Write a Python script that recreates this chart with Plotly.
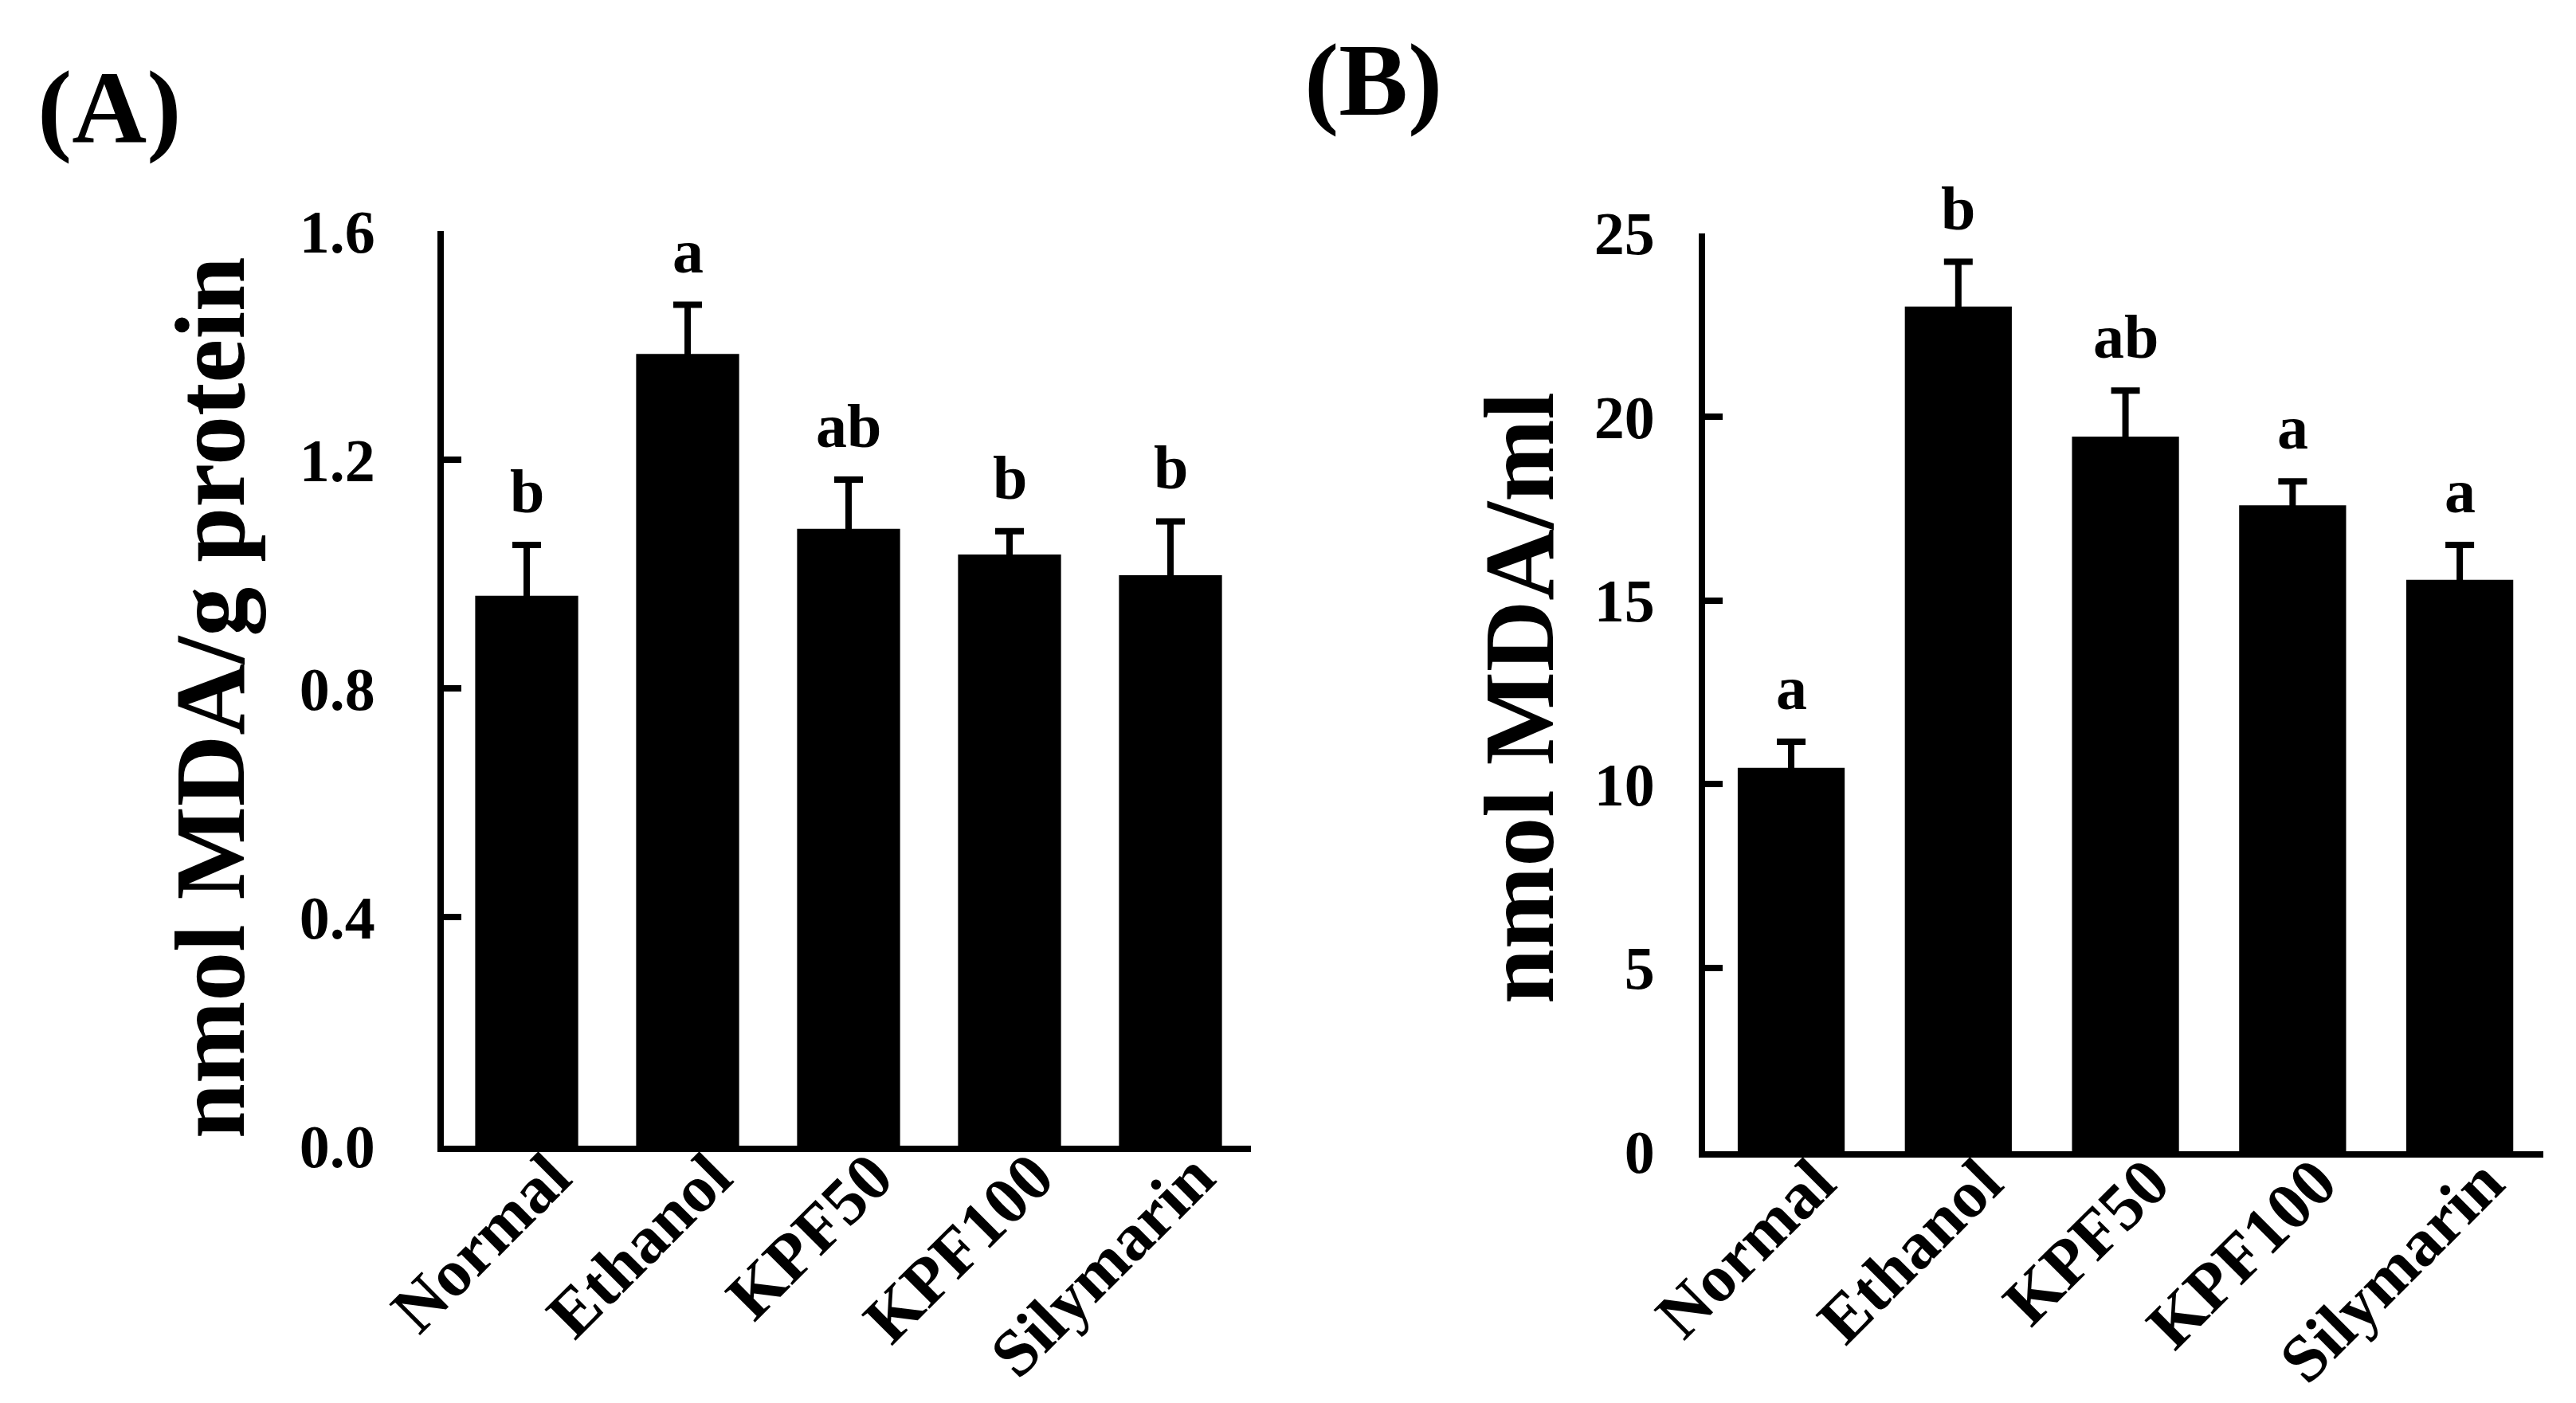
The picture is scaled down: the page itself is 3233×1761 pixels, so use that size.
import plotly.graph_objects as go

categories = ["Normal", "Ethanol", "KPF50", "KPF100", "Silymarin"]

# Panel A: nmol MDA/g protein
a_values = [0.962, 1.385, 1.079, 1.034, 0.998]
a_errors = [0.089, 0.086, 0.086, 0.041, 0.094]
a_letters = ["b", "a", "ab", "b", "b"]
a_ticks = [0.0, 0.4, 0.8, 1.2, 1.6]

# Panel B: nmol MDA/ml
b_values = [10.44, 23.0, 19.46, 17.59, 15.56]
b_errors = [0.71, 1.22, 1.25, 0.65, 0.95]
b_letters = ["a", "b", "ab", "a", "a"]
b_ticks = [0, 5, 10, 15, 20, 25]

W, H = 3233, 1761
FONT = "Liberation Serif"

fig = go.Figure()

def bar(x, y, err, xa, ya):
    return go.Bar(
        x=x, y=y, xaxis=xa, yaxis=ya, width=0.64,
        marker=dict(color="black", line=dict(width=0)),
        error_y=dict(type="data", symmetric=False, array=err,
                     arrayminus=y, color="black",
                     thickness=8, width=18),
        showlegend=False,
    )

fig.add_trace(bar(categories, a_values, a_errors, "x", "y"))
fig.add_trace(bar(categories, b_values, b_errors, "x2", "y2"))

axis_common = dict(showline=True, linecolor="black", linewidth=8,
                   showgrid=False, zeroline=False, automargin=False)
xfont = dict(family=FONT, size=84, color="black", weight="bold")
yfont = dict(family=FONT, size=76, color="black", weight="bold")

fig.update_layout(
    width=W, height=H,
    margin=dict(l=0, r=0, t=0, b=0, autoexpand=False),
    paper_bgcolor="white", plot_bgcolor="white",
    xaxis=dict(domain=[557 / W, 1570 / W], anchor="y", type="category",
               range=[-0.515, 4.5], tickangle=-45, ticks="",
               ticklabelstandoff=-52, ticklabelshift=30,
               tickfont=xfont, **axis_common),
    yaxis=dict(domain=[1 - 1438 / H, 1 - 290 / H], anchor="x",
               range=[0, 1.6], tickvals=a_ticks, tickformat=".1f",
               ticks="inside", ticklen=22, tickwidth=8, tickcolor="black",
               ticklabelstandoff=63, tickfont=yfont, **axis_common),
    xaxis2=dict(domain=[2140 / W, 3192 / W], anchor="y2", type="category",
                range=[-0.515, 4.5], tickangle=-45, ticks="",
                ticklabelstandoff=-52, ticklabelshift=30,
                tickfont=xfont, **axis_common),
    yaxis2=dict(domain=[1 - 1445 / H, 1 - 292.6 / H], anchor="x2",
                range=[0, 25], tickvals=b_ticks,
                ticks="inside", ticklen=22, tickwidth=8, tickcolor="black",
                ticklabelstandoff=40, tickfont=yfont, **axis_common),
)

letter_font = dict(family=FONT, size=78, color="black", weight="bold")
for c, v, e, t in zip(categories, a_values, a_errors, a_letters):
    fig.add_annotation(x=c, y=v + e, xref="x", yref="y", text=t,
                       showarrow=False, yanchor="bottom", yshift=22,
                       font=letter_font)
for c, v, e, t in zip(categories, b_values, b_errors, b_letters):
    fig.add_annotation(x=c, y=v + e, xref="x2", yref="y2", text=t,
                       showarrow=False, yanchor="bottom", yshift=22,
                       font=letter_font)

title_font = dict(family=FONT, size=124, color="black", weight="bold")
fig.add_annotation(x=265 / W, y=1 - 876 / H, xref="paper", yref="paper",
                   text="nmol MDA/g protein", textangle=-90, showarrow=False,
                   xanchor="center", yanchor="middle", font=title_font)
fig.add_annotation(x=1908 / W, y=1 - 876 / H, xref="paper", yref="paper",
                   text="nmol MDA/ml", textangle=-90, showarrow=False,
                   xanchor="center", yanchor="middle", font=title_font)

panel_font = dict(family=FONT, size=130, color="black", weight="bold")
fig.add_annotation(x=137 / W, y=1 - 134 / H, xref="paper", yref="paper",
                   text="(A)", showarrow=False, xanchor="center",
                   yanchor="middle", font=panel_font)
fig.add_annotation(x=1723 / W, y=1 - 100 / H, xref="paper", yref="paper",
                   text="(B)", showarrow=False, xanchor="center",
                   yanchor="middle", font=panel_font)

fig.write_html("out.html",
               config={"displayModeBar": False},
               post_script="document.body.style.margin='0px';"
                           "document.body.style.overflow='hidden';")
